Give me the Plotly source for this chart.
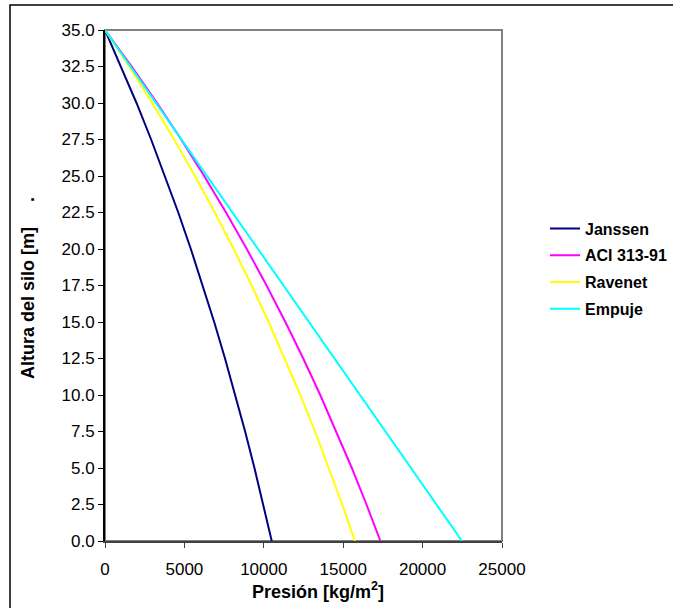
import plotly.graph_objects as go

heights = [35, 32.5, 30, 27.5, 25, 22.5, 20, 17.5, 15, 12.5, 10, 7.5, 5, 2.5, 0]
janssen = [0, 1017, 1985, 2905, 3781, 4614, 5406, 6160, 6876, 7558, 8207, 8824, 9411, 9969, 10500]
aci = [0, 1680, 3278, 4799, 6245, 7620, 8929, 10174, 11357, 12484, 13555, 14574, 15543, 16465, 17342]
ravenet = [0, 1524, 2975, 4354, 5666, 6914, 8102, 9231, 10305, 11327, 12299, 13224, 14104, 14941, 15736]
empuje = [0, 1606, 3211, 4817, 6423, 8029, 9634, 11240, 12846, 14451, 16057, 17663, 19269, 20874, 22480]

series = [
    ("Janssen", janssen, "#000080"),
    ("ACI 313-91", aci, "#FF00FF"),
    ("Ravenet", ravenet, "#FFFF00"),
    ("Empuje", empuje, "#00FFFF"),
]

FONT = "Liberation Sans, Arial, sans-serif"

fig = go.Figure()
for name, vals, color in series:
    fig.add_trace(go.Scatter(
        x=vals, y=heights, mode="lines", name=name, legendgroup=name,
        line=dict(color=color, width=2),
    ))

W, H = 673, 608
L, R, T, B = 105, 171, 30, 67
pw, ph = W - L - R, H - T - B

def px_x(px):
    return (px - L) / pw

def px_y(py):
    return (H - B - py) / ph

fig.update_layout(
    width=W, height=H,
    margin=dict(l=L, r=R, t=T, b=B, autoexpand=False),
    paper_bgcolor="white", plot_bgcolor="white",
    font=dict(family=FONT, size=17, color="black"),
    showlegend=True,
    legend=dict(
        x=px_x(545), y=px_y(269), xanchor="left", yanchor="middle",
        font=dict(family=FONT, size=16, color="black", weight="bold"),
        bgcolor="rgba(0,0,0,0)", borderwidth=0,
        traceorder="grouped", tracegroupgap=3,
    ),
    xaxis=dict(
        range=[0, 25000], dtick=5000, tick0=0, tickformat="d",
        showgrid=False, zeroline=False,
        showline=True, linecolor="#404040", linewidth=2,
        ticks="outside", ticklen=5, tickcolor="#404040", tickwidth=1,
        ticklabelstandoff=7,
        tickfont=dict(family=FONT, size=17, color="black"),
    ),
    yaxis=dict(
        range=[0, 35], dtick=2.5, tick0=0, tickformat=".1f",
        showgrid=False, zeroline=False,
        showline=True, linecolor="black", linewidth=2,
        ticks="outside", ticklen=5, tickcolor="black", tickwidth=1,
        ticklabelstandoff=0,
        tickfont=dict(family=FONT, size=17, color="black"),
    ),
    shapes=[
        dict(type="rect", xref="paper", yref="paper", x0=0, x1=1, y0=0, y1=1,
             line=dict(color="#808080", width=2), layer="below"),
        dict(type="rect", xref="paper", yref="paper",
             x0=px_x(10), x1=px_x(700), y0=px_y(640), y1=px_y(5),
             line=dict(color="black", width=1.5), layer="below"),
    ],
    annotations=[
        dict(text="Presión [kg/m<sup>2</sup>]", xref="paper", yref="paper",
             x=px_x(318), y=px_y(591), xanchor="center", yanchor="middle",
             showarrow=False,
             font=dict(family=FONT, size=18, color="black", weight="bold")),
        dict(text="Altura del silo [m]" + "\u00a0" * 5 + ".", xref="paper", yref="paper",
             x=px_x(28), y=px_y(288), xanchor="center", yanchor="middle",
             textangle=-90, showarrow=False,
             font=dict(family=FONT, size=18, color="black", weight="bold")),
    ],
)

fig.write_html(
    "out.html",
    config={"displayModeBar": False},
    post_script="document.body.style.margin='0';document.body.style.overflow='hidden';",
)
